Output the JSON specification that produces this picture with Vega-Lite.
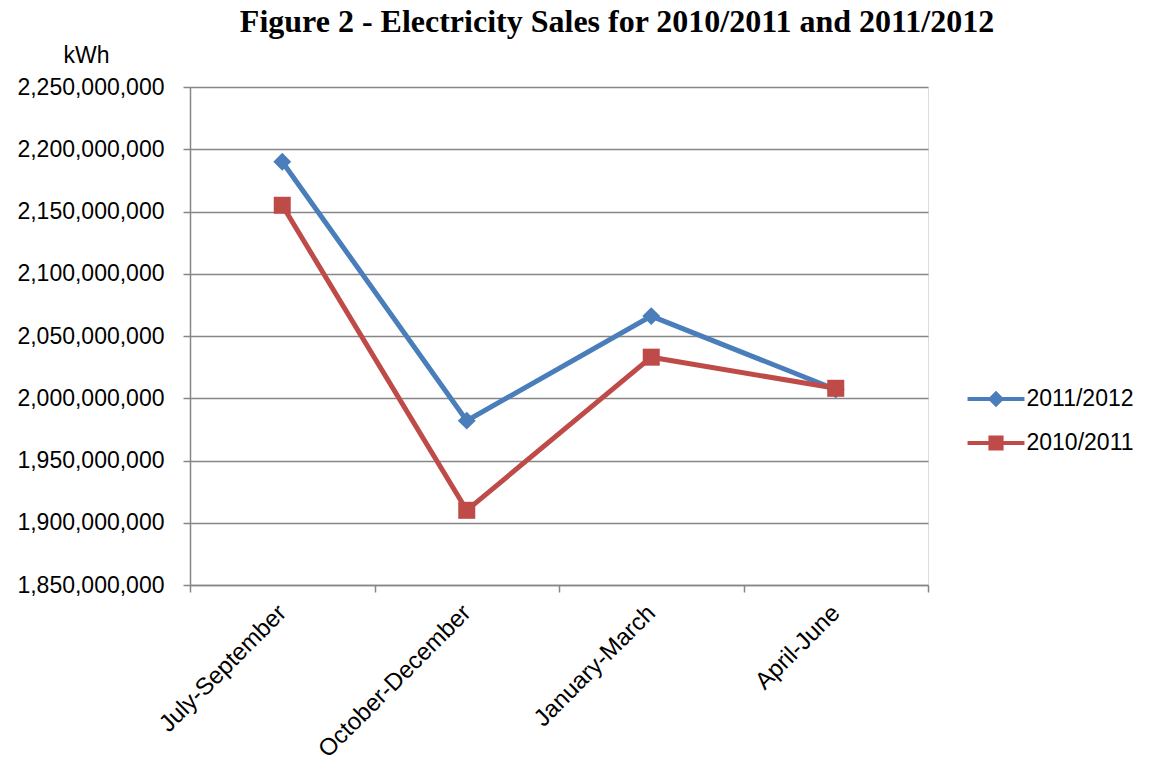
{
  "$schema": "https://vega.github.io/schema/vega-lite/v6.json",
  "width": 738,
  "height": 498,
  "autosize": {"type": "none"},
  "padding": {"left": 190, "top": 87, "right": 223, "bottom": 181},
  "background": "white",
  "title": {
    "text": "Figure 2 - Electricity Sales for 2010/2011 and 2011/2012",
    "font": "Liberation Serif",
    "fontSize": 32,
    "fontWeight": "bold",
    "color": "black",
    "anchor": "middle",
    "frame": "group",
    "dx": 58,
    "offset": 5
  },
  "data": {
    "values": [
      {"period": "July-September", "series": "2011/2012", "kwh": 2190000000},
      {"period": "October-December", "series": "2011/2012", "kwh": 1982000000},
      {"period": "January-March", "series": "2011/2012", "kwh": 2066000000},
      {"period": "April-June", "series": "2011/2012", "kwh": 2007000000},
      {"period": "July-September", "series": "2010/2011", "kwh": 2155000000},
      {"period": "October-December", "series": "2010/2011", "kwh": 1910000000},
      {"period": "January-March", "series": "2010/2011", "kwh": 2033000000},
      {"period": "April-June", "series": "2010/2011", "kwh": 2008000000}
    ]
  },
  "encoding": {
    "x": {
      "field": "period",
      "type": "nominal",
      "sort": ["July-September", "October-December", "January-March", "April-June"],
      "scale": {"type": "band", "paddingInner": 0, "paddingOuter": 0},
      "bandPosition": 0.5,
      "axis": {
        "title": null,
        "labelAngle": -45,
        "labelAlign": "right",
        "labelBaseline": "middle",
        "labelFont": "Liberation Sans",
        "labelFontSize": 24,
        "labelColor": "black",
        "labelPadding": 17,
        "labelLimit": 0,
        "domainColor": "#868686",
        "domainWidth": 1.5,
        "tickColor": "#868686",
        "tickWidth": 1.5,
        "tickSize": 7,
        "tickBand": "extent",
        "grid": false
      }
    },
    "y": {
      "field": "kwh",
      "type": "quantitative",
      "scale": {"domain": [1850000000, 2250000000], "zero": false, "nice": false},
      "axis": {
        "values": [1850000000, 1900000000, 1950000000, 2000000000, 2050000000, 2100000000, 2150000000, 2200000000, 2250000000],
        "format": ",.0f",
        "title": "kWh",
        "titleAngle": 0,
        "titleX": -104,
        "titleY": -32,
        "titleAlign": "center",
        "titleBaseline": "middle",
        "titleFont": "Liberation Sans",
        "titleFontSize": 23,
        "titleFontWeight": "normal",
        "titleColor": "black",
        "labelFont": "Liberation Sans",
        "labelFontSize": 23,
        "labelColor": "black",
        "labelPadding": 19,
        "gridColor": "#868686",
        "gridWidth": 1.5,
        "domainColor": "#868686",
        "domainWidth": 1.5,
        "tickColor": "#868686",
        "tickWidth": 1.5,
        "tickSize": 7
      }
    },
    "color": {
      "field": "series",
      "type": "nominal",
      "scale": {"domain": ["2011/2012", "2010/2011"], "range": ["#4A7EBB", "#BE4B48"]},
      "legend": {
        "title": null,
        "orient": "none",
        "legendX": 790,
        "legendY": 296,
        "padding": 0,
        "labelFont": "Liberation Sans",
        "labelFontSize": 23,
        "labelColor": "black",
        "labelOffset": 14.5,
        "rowPadding": 16,
        "symbolSize": 1000,
        "symbolOpacity": 1,
        "symbolType": "M-1.8,-0.13H1.8V0.13H-1.8Z",
        "encode": {
          "symbols": {
            "update": {
              "shape": {"signal": "datum.value == '2011/2012' ? 'M-1.8,-0.13H1.8V0.13H-1.8Z M0,-0.52L0.52,0L0,0.52L-0.52,0Z' : 'M-1.8,-0.13H1.8V0.13H-1.8Z M-0.48,-0.48H0.48V0.48H-0.48Z'"},
              "size": {"value": 1000},
              "fill": {"scale": "color", "field": "value"},
              "stroke": {"value": "transparent"},
              "strokeWidth": {"value": 0},
              "opacity": {"value": 1}
            }
          }
        }
      }
    }
  },
  "layer": [
    {"mark": {"type": "line", "strokeWidth": 5}},
    {
      "transform": [{"filter": "datum.series == '2011/2012'"}],
      "mark": {"type": "point", "filled": true, "shape": "diamond", "size": 320, "opacity": 1}
    },
    {
      "transform": [{"filter": "datum.series == '2010/2011'"}],
      "mark": {"type": "point", "filled": true, "shape": "square", "size": 290, "opacity": 1}
    }
  ]
}
